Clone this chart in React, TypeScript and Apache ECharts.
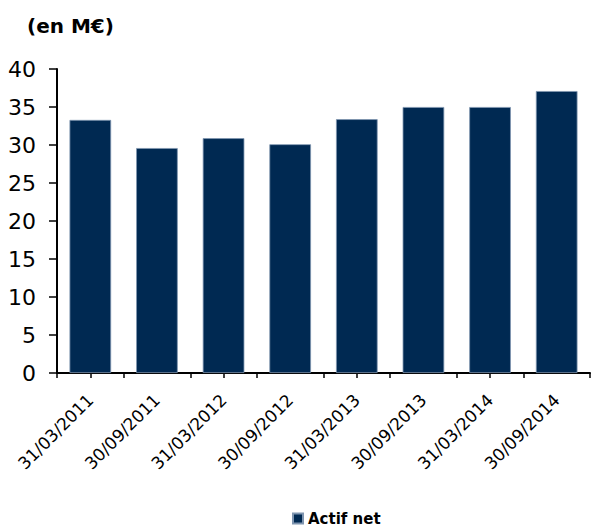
import React, { useEffect, useRef } from "react";
import * as echarts from "echarts";

const categories = [
  "31/03/2011",
  "30/09/2011",
  "31/03/2012",
  "30/09/2012",
  "31/03/2013",
  "30/09/2013",
  "31/03/2014",
  "30/09/2014",
];
const actifNet = [33.3, 29.6, 30.9, 30.1, 33.4, 35.0, 35.0, 37.1];
const seriesName = "Actif net";
const titleText = "(en M€)";

const FONT = "'DejaVu Sans', 'Liberation Sans', Arial, sans-serif";

export default function App() {
  const ref = useRef<HTMLDivElement>(null);
  useEffect(() => {
    document.body.style.margin = "0";
    if (!ref.current) return;
    const chart = echarts.init(ref.current, null, { renderer: "svg" });
    chart.setOption({
      animation: false,
      backgroundColor: "#ffffff",
      title: {
        text: titleText,
        left: 22,
        top: 11,
        textStyle: { fontFamily: FONT, fontSize: 20, fontWeight: "bold", color: "#000" },
      },
      legend: {
        data: [seriesName],
        bottom: 1,
        left: 287,
        icon: "rect",
        itemWidth: 10,
        itemHeight: 10,
        itemGap: 4,
        textStyle: { fontFamily: FONT, fontSize: 15, fontWeight: "bold", color: "#000" },
      },
      grid: { left: 57, right: 1, top: 69, bottom: 159, containLabel: false },
      xAxis: [
        {
          type: "category",
          data: categories,
          position: "bottom",
          axisLine: { show: true, lineStyle: { color: "#000", width: 2 } },
          axisTick: { show: true, length: 5, lineStyle: { color: "#000", width: 1.5 } },
          axisLabel: {
            rotate: 45,
            margin: 24,
            fontFamily: FONT,
            fontSize: 17,
            color: "#000",
          },
        },
        {
          type: "category",
          data: categories,
          position: "bottom",
          axisLine: { show: false },
          axisTick: { show: true, alignWithLabel: true, length: 5, lineStyle: { color: "#000", width: 1.5 } },
          axisLabel: { show: false },
        },
      ],
      yAxis: {
        type: "value",
        min: 0,
        max: 40,
        interval: 5,
        axisLine: { show: true, lineStyle: { color: "#000", width: 2 } },
        axisTick: { show: true, length: 8, lineStyle: { color: "#000", width: 1.5 } },
        splitLine: { show: false },
        axisLabel: { margin: 21, fontFamily: FONT, fontSize: 22, color: "#000" },
      },
      series: [
        {
          name: seriesName,
          type: "bar",
          xAxisIndex: 0,
          data: actifNet,
          barWidth: "62.5%",
          itemStyle: { color: "#002952", borderColor: "#7f95b0", borderWidth: 0.8 },
        },
      ],
    });
    return () => chart.dispose();
  }, []);
  return <div ref={ref} style={{ width: 591, height: 532 }} />;
}
